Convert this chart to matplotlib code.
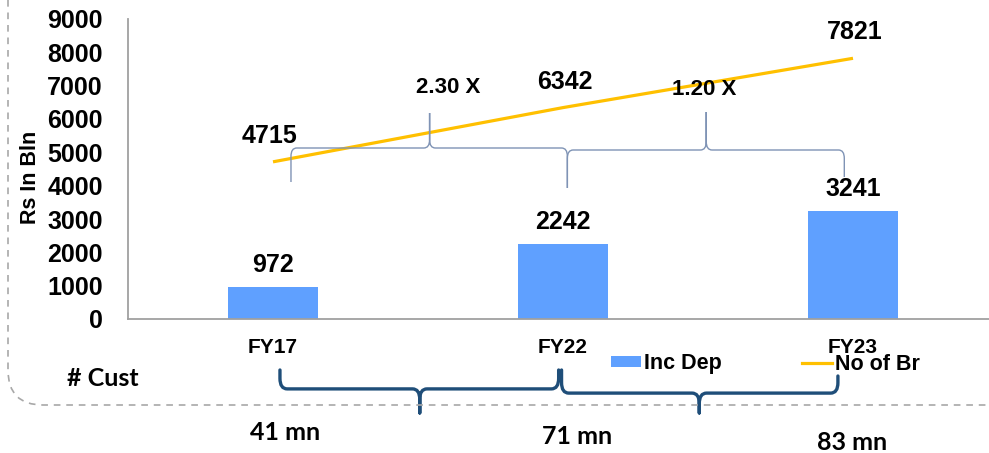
import matplotlib
matplotlib.use("Agg")
import matplotlib.pyplot as plt
from matplotlib.path import Path
from matplotlib.patches import PathPatch, Patch
from matplotlib.lines import Line2D
import matplotlib.transforms as mtransforms

# ---------------- data ----------------
categories = ["FY17", "FY22", "FY23"]
inc_dep = [972, 2242, 3241]
no_of_br = [4715, 6342, 7821]
growth_labels = ["2.30 X", "1.20 X"]
cust_labels = ["41 mn", "71 mn", "83 mn"]
y_ticks = [0, 1000, 2000, 3000, 4000, 5000, 6000, 7000, 8000, 9000]

BAR_C = "#5FA0FF"
LINE_C = "#FFC000"
THIN_C = "#7F93B5"
NAVY = "#1F4E79"
FONT = "Liberation Sans"
FONT2 = "Lato"

W, H = 989, 453
fig = plt.figure(figsize=(W / 100, H / 100), dpi=100)
ax = fig.add_axes([128 / W, 1 - 319 / H, 870 / W, 300 / H])

x = list(range(len(categories)))
bars = ax.bar(x, inc_dep, width=0.31, color=BAR_C, zorder=2)
ax.plot(x, no_of_br, color=LINE_C, lw=2.3, zorder=3, solid_capstyle="butt")

ax.set_xlim(-0.5, 2.5)
ax.set_ylim(0, 9000)
ax.set_yticks(y_ticks)
ax.set_yticklabels([str(v) for v in y_ticks], fontfamily=FONT, fontweight="bold", fontsize=18)
ax.set_xticks(x)
ax.set_xticklabels(categories, fontfamily=FONT, fontweight="bold", fontsize=15)
ax.tick_params(axis="y", length=0, pad=18)
ax.tick_params(axis="x", length=0, pad=14)
for s in ["top", "right"]:
    ax.spines[s].set_visible(False)
for s in ["left", "bottom"]:
    ax.spines[s].set_color("#A0A0A0")
    ax.spines[s].set_linewidth(1.3)

# data labels
for xi, v in zip(x, inc_dep):
    ax.annotate(str(v), (xi, v), xytext=(0, 22), textcoords="offset pixels",
                ha="center", va="center", fontfamily=FONT, fontweight="bold", fontsize=18)
for xi, v in zip(x, no_of_br):
    ax.annotate(str(v), (xi, v), xytext=(-3 if xi == 0 else 2, 26), textcoords="offset pixels",
                ha="center", va="center", fontfamily=FONT, fontweight="bold", fontsize=18)


def brace(x0, x1, xm, yh, y0, y1, ym, rx, ry, transform, **kw):
    def sgn(a):
        return 1 if a > 0 else -1
    s0 = sgn(y0 - yh)
    sm = sgn(ym - yh)
    s1 = sgn(y1 - yh)
    verts = [(x0, y0), (x0, yh + s0 * ry), (x0, yh), (x0 + rx, yh),
             (xm - rx, yh), (xm, yh), (xm, yh + sm * ry), (xm, ym),
             (xm, yh + sm * ry), (xm, yh), (xm + rx, yh),
             (x1 - rx, yh), (x1, yh), (x1, yh + s1 * ry), (x1, y1)]
    codes = [Path.MOVETO, Path.LINETO, Path.CURVE3, Path.CURVE3,
             Path.LINETO, Path.CURVE3, Path.CURVE3, Path.LINETO,
             Path.LINETO, Path.CURVE3, Path.CURVE3,
             Path.LINETO, Path.CURVE3, Path.CURVE3, Path.LINETO]
    p = PathPatch(Path(verts, codes), transform=transform, fill=False, clip_on=False, **kw)
    ax.add_patch(p)


# thin growth braces (data coords)
brace(0.062, 1.015, 0.54, 5130, 4110, 3930, 6180, 0.02, 250, ax.transData,
      color=THIN_C, lw=1.0, zorder=4)
brace(1.015, 1.97, 1.494, 5070, 3930, 4260, 6210, 0.02, 250, ax.transData,
      color=THIN_C, lw=1.0, zorder=4)
ax.text(0.605, 6950, growth_labels[0], ha="center", va="center",
        fontfamily=FONT, fontweight="bold", fontsize=16)
ax.text(1.487, 6880, growth_labels[1], ha="center", va="center",
        fontfamily=FONT, fontweight="bold", fontsize=16)

# customer braces (x data, y axes)
trans = mtransforms.blended_transform_factory(ax.transData, ax.transAxes)
brace(0.024, 0.985, 0.506, -0.233, -0.17, -0.17, -0.313, 0.025, 0.035, trans,
      color=NAVY, lw=2.4, zorder=4, capstyle="round", joinstyle="round")
brace(0.995, 1.948, 1.47, -0.247, -0.17, -0.19, -0.313, 0.025, 0.035, trans,
      color=NAVY, lw=2.4, zorder=4, capstyle="round", joinstyle="round")

cust_y = [433, 437, 442]
cust_x = [285, 577, 852]
for lab, cx, cy in zip(cust_labels, cust_x, cust_y):
    fig.text(cx / W, 1 - cy / H, lab, ha="center", va="center",
             fontfamily=FONT2, fontweight="bold", fontsize=18)
fig.text(67 / W, 1 - 378 / H, "# Cust", ha="left", va="center",
         fontfamily=FONT2, fontweight="bold", fontsize=18)

fig.text(31 / W, 1 - 177 / H, "Rs In Bln", rotation=90, ha="center", va="center",
         fontfamily=FONT, fontweight="bold", fontsize=15.5)

# legend
handles = [Patch(facecolor=BAR_C, edgecolor="none"),
           Line2D([0], [0], color=LINE_C, lw=2.3)]
fig.legend(handles, ["Inc Dep", "No of Br"], ncol=2, loc="center left",
           bbox_to_anchor=(611 / W, 1 - 364 / H), bbox_transform=fig.transFigure,
           frameon=False, borderpad=0, borderaxespad=0, handlelength=1.4,
           handleheight=0.4, handletextpad=0.15, columnspacing=3.7,
           prop={"family": FONT, "weight": "bold", "size": 15.5})

# dashed rounded border
r = 35
bverts = [(8 / W, 1.0), (8 / W, 1 - 370 / H), (8 / W, 1 - 405 / H), ((8 + r) / W, 1 - 405 / H),
          (1.0, 1 - 405 / H)]
bcodes = [Path.MOVETO, Path.LINETO, Path.CURVE3, Path.CURVE3, Path.LINETO]
fig.add_artist(PathPatch(Path(bverts, bcodes), transform=fig.transFigure, fill=False,
                         edgecolor="#A8A8A8", lw=1.2, linestyle=(0, (4, 3.5))))

fig.savefig("out.png", dpi=100)
